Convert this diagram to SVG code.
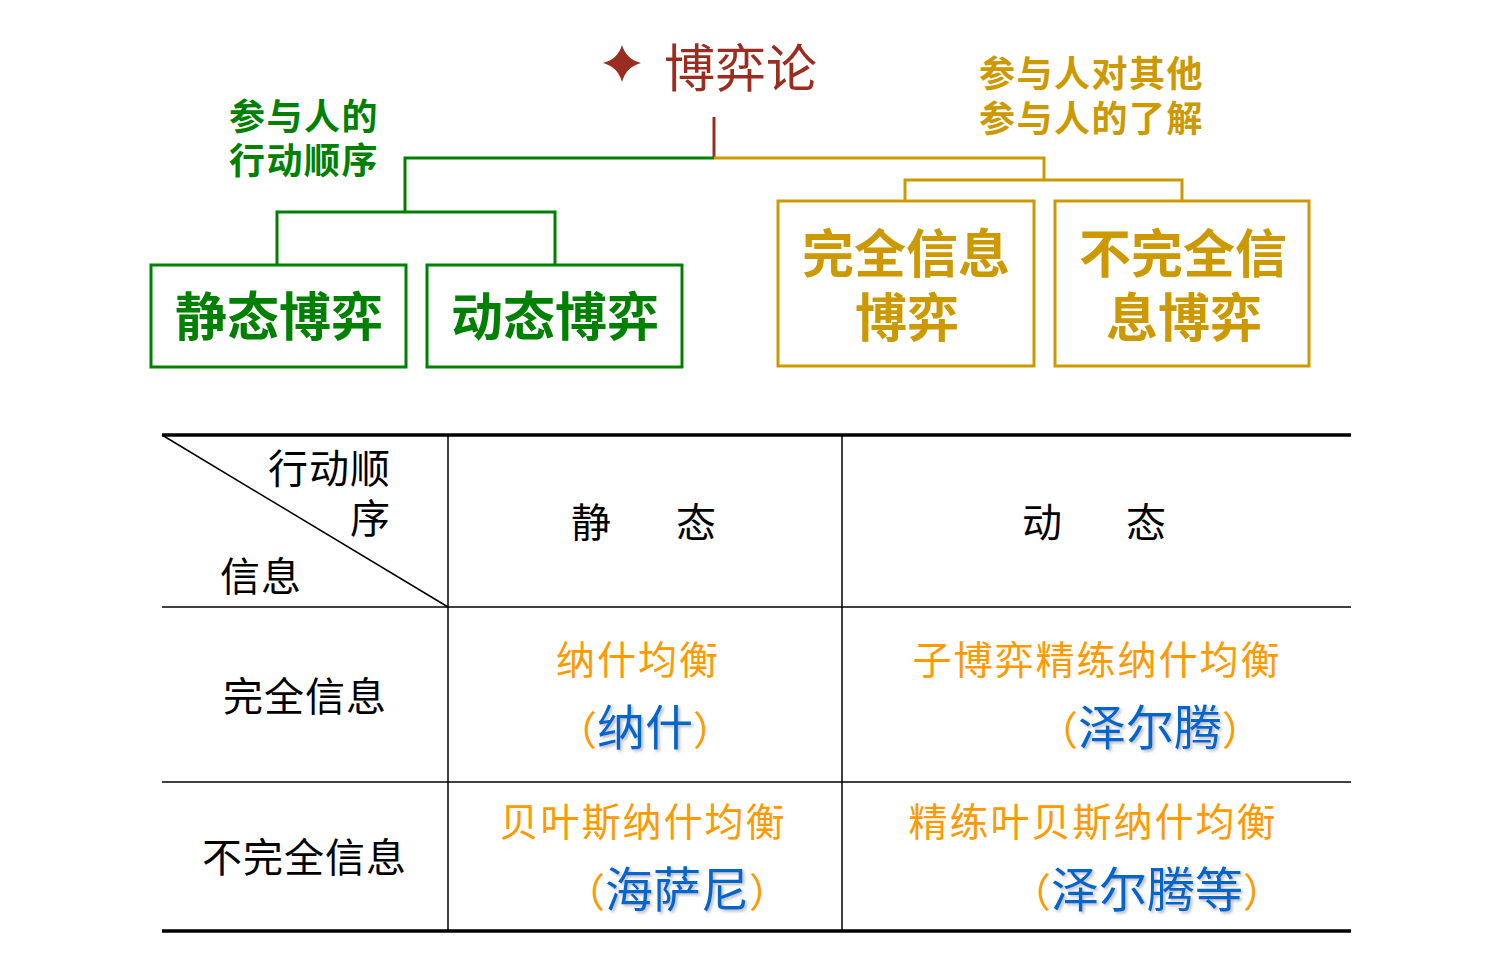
<svg xmlns="http://www.w3.org/2000/svg" width="1489" height="969" viewBox="0 0 1489 969">
<style>
.cjk{font-family:"Noto Sans CJK SC","Noto Sans",sans-serif}
.g{fill:#008000;font-weight:bold}
.y{fill:#CC9900;font-weight:bold}
.gl{stroke:#008000;stroke-width:3;fill:none}
.yl{stroke:#CC9900;stroke-width:3;fill:none}
.box-g{fill:#fff;stroke:#008000;stroke-width:3}
.box-y{fill:#fff;stroke:#CC9900;stroke-width:3}
.t{fill:#000;font-size:40px;letter-spacing:1px}
.o{fill:#FF9900;font-size:39px;letter-spacing:2px}
.b{fill:#0066CC;font-size:48px;filter:url(#sh)}
.p{fill:#FF9900;font-size:40px}
.thin{stroke:#000;stroke-width:1.5}
.thick{stroke:#000;stroke-width:3.5}
</style>
<defs>
<filter id="sh" x="-10%" y="-10%" width="130%" height="140%">
<feDropShadow dx="2" dy="2" stdDeviation="1.5" flood-color="#777" flood-opacity="0.5"/>
</filter>
</defs>
<rect width="1489" height="969" fill="#fff"/>

<g id="connectors">
<line x1="714" y1="117" x2="714" y2="158" stroke="#9B2D20" stroke-width="3"/>
<polyline class="gl" points="714,158 405,158 405,212"/>
<polyline class="gl" points="277,265 277,212 555,212 555,265"/>
<polyline class="yl" points="714,158 1044,158 1044,180"/>
<polyline class="yl" points="905,201 905,180 1182,180 1182,201"/>
</g>

<g id="title">
<path d="M622,45 Q626,59 641,63 Q626,67 622,82 Q618,67 603,63 Q618,59 622,45 Z" fill="#9B2D20"/>
<text class="cjk" x="664" y="87" font-size="51" fill="#9B2D20">博弈论</text>
</g>

<g id="label-order">
<text class="cjk g" x="229" y="130" font-size="36" letter-spacing="1.5">参与人的</text>
<text class="cjk g" x="229" y="174" font-size="36" letter-spacing="1.5">行动顺序</text>
</g>

<g id="label-info">
<text class="cjk y" x="979" y="87" font-size="36" letter-spacing="1.5">参与人对其他</text>
<text class="cjk y" x="979" y="132" font-size="36" letter-spacing="1.5">参与人的了解</text>
</g>

<g id="static-game">
<rect class="box-g" x="151" y="265" width="255" height="102"/>
<text class="cjk g" x="279" y="336" font-size="52" text-anchor="middle">静态博弈</text>
</g>
<g id="dynamic-game">
<rect class="box-g" x="427" y="265" width="255" height="102"/>
<text class="cjk g" x="555" y="336" font-size="52" text-anchor="middle">动态博弈</text>
</g>
<g id="complete-info-game">
<rect class="box-y" x="778" y="201" width="256" height="165"/>
<text class="cjk y" x="906" y="273" font-size="52" text-anchor="middle">完全信息</text>
<text class="cjk y" x="907" y="337" font-size="52" text-anchor="middle">博弈</text>
</g>
<g id="incomplete-info-game">
<rect class="box-y" x="1055" y="201" width="254" height="165"/>
<text class="cjk y" x="1183" y="273" font-size="52" text-anchor="middle">不完全信</text>
<text class="cjk y" x="1184" y="337" font-size="52" text-anchor="middle">息博弈</text>
</g>

<g id="table">
<line class="thick" x1="162" y1="435" x2="1351" y2="435"/>
<line class="thick" x1="162" y1="931" x2="1351" y2="931"/>
<line class="thin" x1="162" y1="607" x2="1351" y2="607"/>
<line class="thin" x1="162" y1="782" x2="1351" y2="782"/>
<line class="thin" x1="448" y1="435" x2="448" y2="931"/>
<line class="thin" x1="842" y1="435" x2="842" y2="931"/>
<line class="thin" x1="162" y1="435" x2="448" y2="607"/>

<text class="cjk t" x="268" y="483">行动顺</text>
<text class="cjk t" x="350" y="533">序</text>
<text class="cjk t" x="220" y="591">信息</text>
<text class="cjk t" x="571" y="537" font-size="44">静</text>
<text class="cjk t" x="676" y="537" font-size="44">态</text>
<text class="cjk t" x="1022" y="537" font-size="44">动</text>
<text class="cjk t" x="1126" y="537" font-size="44">态</text>

<text class="cjk t" x="223" y="711">完全信息</text>
<text class="cjk t" x="202" y="872" letter-spacing="2">不完全信息</text>

<text class="cjk o" x="638" y="674" text-anchor="middle">纳什均衡</text>
<text class="cjk o" x="643" y="836" text-anchor="middle">贝叶斯纳什均衡</text>
<text class="cjk o" x="1097" y="674" text-anchor="middle">子博弈精练纳什均衡</text>
<text class="cjk o" x="1093" y="836" text-anchor="middle">精练叶贝斯纳什均衡</text>

<text class="cjk" x="645" y="745" text-anchor="middle"><tspan class="p">（</tspan><tspan class="b">纳什</tspan><tspan class="p">）</tspan></text>
<text class="cjk" x="677" y="907" text-anchor="middle"><tspan class="p">（</tspan><tspan class="b">海萨尼</tspan><tspan class="p">）</tspan></text>
<text class="cjk" x="1150" y="745" text-anchor="middle"><tspan class="p">（</tspan><tspan class="b">泽尔腾</tspan><tspan class="p">）</tspan></text>
<text class="cjk" x="1147" y="907" text-anchor="middle"><tspan class="p">（</tspan><tspan class="b">泽尔腾等</tspan><tspan class="p">）</tspan></text>
</g>
</svg>
